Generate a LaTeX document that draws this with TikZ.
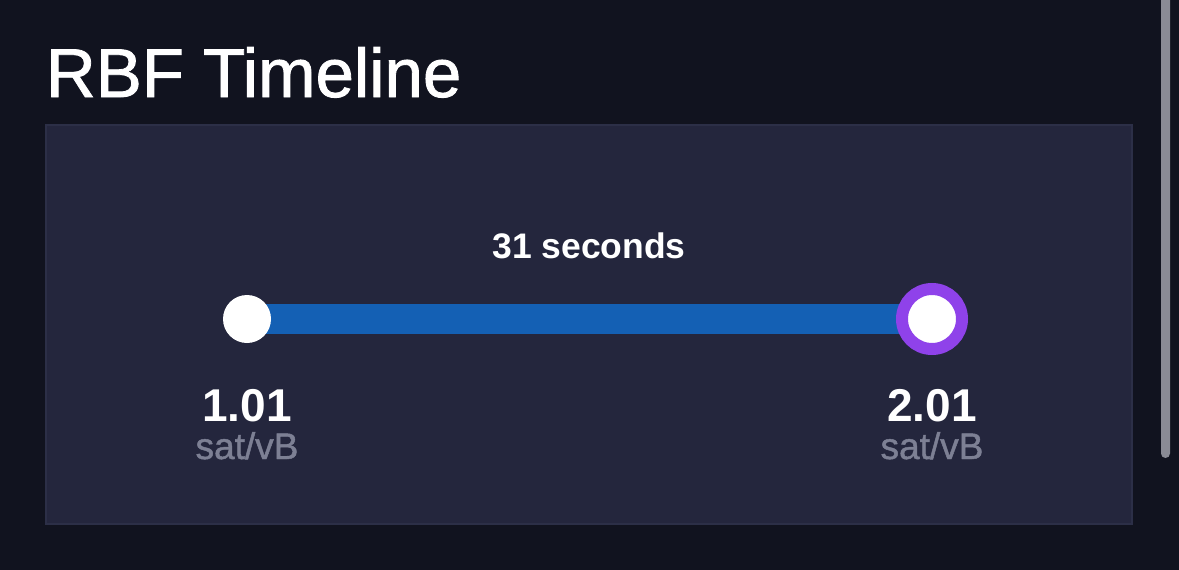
\documentclass[tikz,border=0pt]{standalone}
\usepackage{fontspec}
\setmainfont{Liberation Sans}
\newfontfamily\medfont[FakeBold=1.2]{Liberation Sans}
\begin{document}
\begin{tikzpicture}[x=1pt,y=-1pt,
  every node/.style={inner sep=0pt,outer sep=0pt},
  bigtxt/.style={text=white,font=\medfont\fontsize{69}{69}\selectfont,anchor=base west},
  valtxt/.style={text=white,font=\bfseries\fontsize{46}{46}\selectfont,anchor=base},
  unittxt/.style={text=unitgray,font=\medfont\fontsize{37}{37}\selectfont,anchor=base},
  dot/.style={circle,fill=white,minimum size=48pt},
  ring/.style={circle,fill=white,draw=ringpurple,line width=12pt,minimum size=60pt}]
\definecolor{bg}{HTML}{11131F}
\definecolor{panel}{HTML}{24263D}
\definecolor{panelborder}{HTML}{2C2F47}
\definecolor{barblue}{HTML}{1460B4}
\definecolor{ringpurple}{HTML}{8F42EA}
\definecolor{unitgray}{HTML}{7D8094}
\definecolor{scroll}{HTML}{8A8B95}
\fill[bg] (0,0) rectangle (1179,570);
\useasboundingbox (0,0) rectangle (1179,570);
% scrollbar
\fill[scroll,rounded corners=4.5pt] (1161,-10) rectangle (1170,458);
% panel
\fill[panel,draw=panelborder,line width=2pt] (46,125) rectangle (1132,524);
% title
\node[bigtxt] (title) at (46,97) {RBF Timeline};
% timeline
\coordinate (ca) at (247,319);
\coordinate (cb) at (932,319);
\draw[barblue,line width=30pt] (ca) -- (cb);
\node[dot] (a) at (ca) {};
\node[ring] (b) at (cb) {};
\node[text=white,font=\bfseries\fontsize{35.5}{35.5}\selectfont,anchor=base] (lbl) at (589,258) {31 seconds};
\node[valtxt] (v1) at (247,421) {1.01};
\node[unittxt] (u1) at (247,459) {sat/vB};
\node[valtxt] (v2) at (932,421) {2.01};
\node[unittxt] (u2) at (932,459) {sat/vB};
\end{tikzpicture}
\end{document}
